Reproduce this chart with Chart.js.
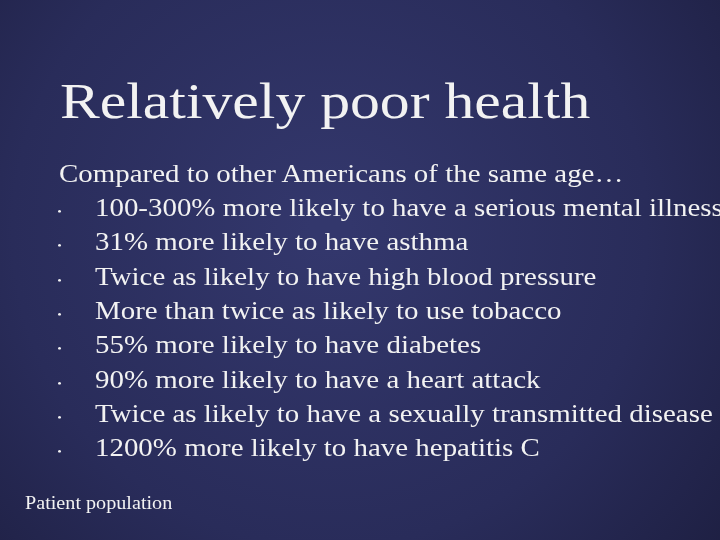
<!DOCTYPE html>
<html><head><meta charset="utf-8">
<script src="https://cdn.jsdelivr.net/npm/chart.js@4"></script>
<style>
html,body{margin:0;padding:0;width:720px;height:540px;overflow:hidden;background:#202244;}
#wrap{position:relative;width:720px;height:540px;}
canvas{position:absolute;left:0;top:0;}
.t{position:absolute;color:#f2f2f2;font-family:"Liberation Serif","DejaVu Serif",serif;white-space:nowrap;transform-origin:0 0;}
#title{left:60px;top:72px;font-size:51px;transform:scaleX(1.17);}
#intro{left:59px;top:160px;font-size:24.5px;transform:scaleX(1.18);}
.li{font-size:24.5px;left:95px;transform:scaleX(1.18);}
.b{position:absolute;left:-32px;top:0;font-size:11px;line-height:34px;}
#foot{left:25px;top:493px;font-size:18px;transform:scaleX(1.12);}
</style></head><body>
<div id="wrap"><canvas id="c" width="720" height="540"></canvas></div>
<script>
const titleText = "Relatively poor health";
const introText = "Compared to other Americans of the same age…";
const bullets = [
 "100-300% more likely to have a serious mental illness",
 "31% more likely to have asthma",
 "Twice as likely to have high blood pressure",
 "More than twice as likely to use tobacco",
 "55% more likely to have diabetes",
 "90% more likely to have a heart attack",
 "Twice as likely to have a sexually transmitted disease",
 "1200% more likely to have hepatitis C"
];
const footText = "Patient population";

const bg = {id:'bg',beforeDraw(ch){const x=ch.ctx;const g=x.createRadialGradient(330,230,20,330,230,560);
g.addColorStop(0,'#33376c');g.addColorStop(0.55,'#292c5a');g.addColorStop(1,'#1b1c3c');
x.save();x.fillStyle=g;x.fillRect(0,0,720,540);x.restore();}};
new Chart(document.getElementById('c'),{type:'bar',data:{labels:[],datasets:[]},
 options:{responsive:false,animation:false,events:[],plugins:{legend:{display:false},tooltip:{enabled:false}},
 scales:{x:{display:false},y:{display:false}}},plugins:[bg]});

const w=document.getElementById('wrap');
function add(id,cls,txt,top){const d=document.createElement('div');if(id)d.id=id;d.className=cls;d.textContent=txt;if(top!=null)d.style.top=top+'px';w.appendChild(d);return d;}
add('title','t',titleText);
add('intro','t',introText);
bullets.forEach((s,i)=>{const d=add(null,'t li',s,194+i*34.3);const b=document.createElement('span');b.className='b';b.textContent='•';d.appendChild(b);});
add('foot','t',footText);
</script></body></html>
